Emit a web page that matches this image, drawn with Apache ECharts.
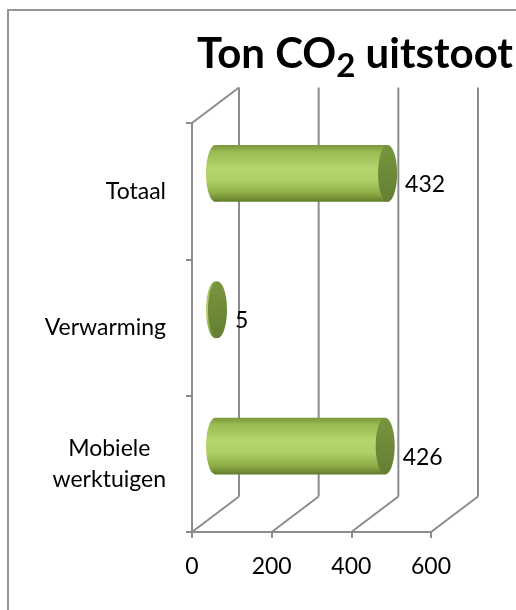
<!DOCTYPE html>
<html>
<head>
<meta charset="utf-8">
<script src="https://cdn.jsdelivr.net/npm/echarts@6/dist/echarts.min.js"></script>
<style>
html,body{margin:0;padding:0;background:#fff;}
#c{width:516px;height:610px;}
</style>
</head>
<body>
<div id="c"></div>
<script>
const categories = ['Totaal', 'Verwarming', 'Mobiele\nwerktuigen'];
const values = [432, 5, 426];
const xTicks = [0, 200, 400, 600];

const FONT = 'Lato';
const LINE = '#8c8c8c';
const DX = 47, DY = -35.5; // 3D depth offset (style)

const chart = echarts.init(document.getElementById('c'), null, {renderer: 'canvas'});

function bodyGrad() {
  return new echarts.graphic.LinearGradient(0, 0, 0, 1, [
    {offset: 0, color: '#7a9739'},
    {offset: 0.12, color: '#9aba52'},
    {offset: 0.4, color: '#b3d56d'},
    {offset: 0.62, color: '#aed068'},
    {offset: 0.85, color: '#8dac46'},
    {offset: 1, color: '#627d2d'}
  ]);
}
function capGrad() {
  return new echarts.graphic.LinearGradient(0, 0, 0, 1, [
    {offset: 0, color: '#78953f'},
    {offset: 1, color: '#647f33'}
  ]);
}

chart.setOption({
  animation: false,
  title: {
    text: '{a|Ton CO}{s|2}{a| uitstoot}',
    left: 350,
    textAlign: 'center',
    top: 24,
    textStyle: {
      rich: {
        a: {fontFamily: FONT, fontWeight: 'bold', fontSize: 42, color: '#000', lineHeight: 50},
        s: {fontFamily: FONT, fontWeight: 'bold', fontSize: 33, color: '#000', lineHeight: 50, padding: [24, 0, 0, 0]}
      }
    }
  },
  graphic: [{
    type: 'rect',
    shape: {x: 8, y: 10, width: 800, height: 900},
    style: {fill: 'none', stroke: '#969696', lineWidth: 2},
    silent: true
  }],
  grid: {left: 192, right: 85, top: 123, bottom: 78},
  xAxis: {
    type: 'value', min: 0, max: 600, interval: 200,
    axisLine: {show: true, lineStyle: {color: LINE, width: 2}},
    axisTick: {show: true, length: 6, lineStyle: {color: LINE, width: 2}},
    splitLine: {show: false},
    axisLabel: {margin: 23, fontFamily: FONT, fontSize: 23, color: '#000'}
  },
  yAxis: {
    type: 'category', data: categories, inverse: true,
    axisLine: {show: true, lineStyle: {color: LINE, width: 2}},
    axisTick: {show: true, length: 6, lineStyle: {color: LINE, width: 2}},
    splitLine: {show: false},
    axisLabel: {
      margin: 26, fontFamily: FONT, fontSize: 23, color: '#000',
      formatter: function (v) { return v.split('\n').map(s => '{c|' + s + '}').join('\n'); },
      rich: {c: {align: 'center', fontFamily: FONT, fontSize: 23, color: '#000', lineHeight: 31}}
    }
  },
  series: [
    {
      type: 'custom',
      silent: true,
      z: 1,
      data: xTicks.map(v => [v, 0]),
      renderItem: function (params, api) {
        const v = api.value(0);
        const x = api.coord([v, 0])[0];
        const cs = params.coordSys;
        const top = cs.y, bottom = cs.y + cs.height;
        const st = {stroke: LINE, lineWidth: 2};
        const children = [
          {type: 'line', shape: {x1: x, y1: bottom, x2: x + DX, y2: bottom + DY}, style: st},
          {type: 'line', shape: {x1: x + DX, y1: bottom + DY, x2: x + DX, y2: top + DY}, style: st}
        ];
        if (params.dataIndex === 0) {
          children.push({type: 'line', shape: {x1: x, y1: top, x2: x + DX, y2: top + DY}, style: st});
        }
        return {type: 'group', children: children};
      }
    },
    {
      type: 'custom',
      z: 3,
      data: values.map((v, i) => [v, i]),
      renderItem: function (params, api) {
        const v = api.value(0), i = api.value(1);
        const p0 = api.coord([0, i]);
        const p1 = api.coord([v, i]);
        const band = api.size([0, 1])[1];
        const h = band * 0.416;
        const ry = h / 2, rx = 9.5;
        const cx0 = p0[0] + DX / 2, cx1 = p1[0] + DX / 2, cy = p0[1] + DY / 2;
        return {
          type: 'group',
          children: [
            {type: 'ellipse', shape: {cx: cx0, cy: cy, rx: rx, ry: ry}, style: {fill: bodyGrad()}},
            {type: 'rect', shape: {x: cx0, y: cy - ry, width: Math.max(cx1 - cx0, 0), height: h}, style: {fill: bodyGrad()}},
            {type: 'ellipse', shape: {cx: cx1, cy: cy, rx: rx, ry: ry}, style: {fill: capGrad()}},
            {type: 'text', style: {text: String(v), x: cx1 + rx + 8, y: cy + 11, align: 'left', verticalAlign: 'middle',
              fontFamily: FONT, fontSize: 23, fill: '#000'}}
          ]
        };
      }
    }
  ]
});
</script>
</body>
</html>
